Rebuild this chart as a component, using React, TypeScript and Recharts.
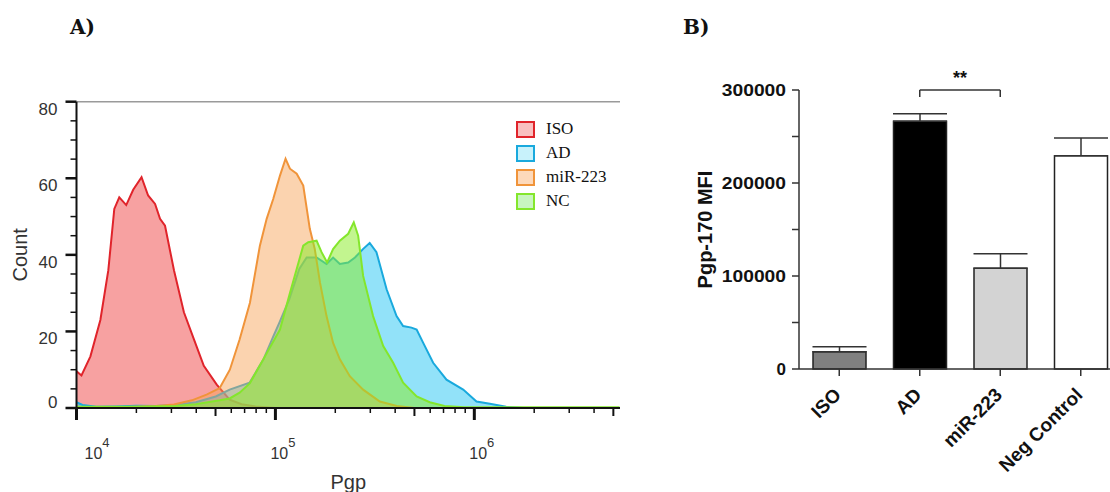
import {
  AreaChart,
  Area,
  BarChart,
  Bar,
  Cell,
  ErrorBar,
  XAxis,
  YAxis,
  ReferenceLine,
  Legend,
} from "recharts";

// Panel A: flow histogram, x given as log10(Pgp), y = count
const isoLog = [4.0, 4.025, 4.07, 4.12, 4.16, 4.19, 4.215, 4.25, 4.285, 4.327, 4.36, 4.395, 4.42, 4.445, 4.49, 4.54, 4.59, 4.64, 4.705, 4.77, 4.83, 4.9, 5.0, 6.73];
const isoCount = [9.6, 8.5, 13.5, 23, 36, 52, 55, 53, 57, 60.3, 55.5, 53.3, 49.4, 47.6, 36, 25, 18, 11, 6.1, 2.2, 1, 0.4, 0, 0];

const adLog = [4.0, 4.03, 4.1, 4.2, 4.3, 4.4, 4.5, 4.6, 4.7, 4.77, 4.87, 4.94, 4.99, 5.02, 5.07, 5.12, 5.157, 5.207, 5.257, 5.29, 5.324, 5.366, 5.4, 5.44, 5.474, 5.508, 5.559, 5.609, 5.642, 5.684, 5.71, 5.743, 5.793, 5.86, 5.944, 6.011, 6.078, 6.16, 6.25, 6.73];
const adCount = [1.5, 0.8, 0.3, 0.4, 0.6, 0.5, 0.8, 1.5, 3, 4.8, 6.6, 12.7, 18.8, 22.3, 28.4, 36.3, 39.3, 39.3, 37.6, 39.3, 37.6, 38, 39.3, 41.5, 43.1, 40.7, 31, 24, 21.4, 21, 20.5, 17, 11.8, 7.4, 4.8, 1.7, 1.1, 0.3, 0, 0];

const mirLog = [4.0, 4.2, 4.4, 4.49, 4.58, 4.654, 4.72, 4.771, 4.82, 4.872, 4.922, 4.956, 4.989, 5.023, 5.051, 5.073, 5.107, 5.14, 5.173, 5.198, 5.224, 5.257, 5.29, 5.324, 5.374, 5.441, 5.525, 5.61, 5.7, 6.73];
const mirCount = [0, 0.2, 0.5, 0.9, 2, 3.5, 5.2, 10, 17.9, 27.5, 42.4, 49.4, 54.6, 60.7, 65.1, 62.5, 61.2, 58.1, 46.8, 41.5, 32.8, 24, 17, 12.7, 8.3, 4.8, 1.7, 0.5, 0, 0];

const ncLog = [4.0, 4.3, 4.5, 4.6, 4.72, 4.77, 4.82, 4.872, 4.939, 5.023, 5.073, 5.107, 5.14, 5.165, 5.207, 5.232, 5.26, 5.29, 5.324, 5.366, 5.394, 5.416, 5.441, 5.491, 5.542, 5.592, 5.642, 5.71, 5.776, 5.85, 5.95, 6.73];
const ncCount = [0.3, 0.3, 0.5, 1, 2, 2.5, 4, 6.5, 12.7, 20.5, 30, 36.3, 42.4, 43.3, 43.7, 40.7, 38, 41.5, 43.7, 45.5, 48.5, 45, 34.5, 24, 16.2, 11.8, 6.6, 3, 1.5, 0.5, 0.2, 0.2];

const pgpTicks = [
  10000, 20000, 30000, 40000, 50000, 60000, 70000, 80000, 90000,
  100000, 200000, 300000, 400000, 500000, 600000, 700000, 800000, 900000,
  1000000, 2000000, 3000000, 4000000, 5000000,
];
const countTicks = [0, 5, 10, 15, 20, 25, 30, 35, 40, 45, 50, 55, 60, 65, 70, 75, 80];

// Panel B: bar chart
const groups = ["ISO", "AD", "miR-223", "Neg Control"];
const mfi = [18600, 266300, 108300, 229400];
const semUp = [5400, 8200, 15700, 19000];
const mfiTicks = [0, 50000, 100000, 150000, 200000, 250000, 300000];

const toSeries = (logs: number[], counts: number[]) =>
  logs.map((e, i) => ({ pgp: 10 ** e, count: counts[i] }));

const series = [
  { name: "ISO", data: toSeries(isoLog, isoCount), stroke: "#e0242b", fill: "#ef3b3b", op: 0.48, box: "#f9c0c0" },
  { name: "AD", data: toSeries(adLog, adCount), stroke: "#19a9dd", fill: "#1cc3f2", op: 0.48, box: "#c8f2fb" },
  { name: "miR-223", data: toSeries(mirLog, mirCount), stroke: "#f0943a", fill: "#f7a257", op: 0.48, box: "#fdd9bb" },
  { name: "NC", data: toSeries(ncLog, ncCount), stroke: "#84e62c", fill: "#8bec28", op: 0.52, box: "#c8f5c0" },
];

const barData = groups.map((g, i) => ({ group: g, mfi: mfi[i], err: [0, semUp[i]] }));
const barFills = ["#808080", "#000000", "#d3d3d3", "#ffffff"];

const SANS = "Arial, 'Liberation Sans', sans-serif";
const SERIF = "'Times New Roman', 'Liberation Serif', serif";

function PgpTick({ x, y, payload }: any) {
  const v = payload.value;
  const exp = Math.floor(Math.log10(v) + 1e-9);
  const mant = Math.round(v / 10 ** exp);
  const major = mant === 1;
  const mid = mant === 5;
  const len = major ? 12 : mid ? 8 : 5;
  return (
    <g>
      <line x1={x} x2={x} y1={y} y2={y + len} stroke="#111" strokeWidth={major ? 3 : mid ? 2 : 1.5} />
      {major && (
        <text x={x + (exp === 4 ? 8 : -5)} y={459} fontFamily={SANS} fontSize={16} fill="#333">
          10
          <tspan dy={-12} fontSize={13}>
            {exp}
          </tspan>
        </text>
      )}
    </g>
  );
}

function CountTick({ x, y, payload }: any) {
  const v = payload.value;
  const major = v % 20 === 0;
  return (
    <g>
      <line x1={x - (major ? 11 : 6)} x2={x} y1={y} y2={y} stroke="#111" strokeWidth={major ? 2.5 : 1.5} />
      {major && (
        <text x={x - 19} y={v === 0 ? y : y + 13} textAnchor="end" fontFamily={SANS} fontSize={17} fill="#333">
          {v}
        </text>
      )}
    </g>
  );
}

function MfiTick({ x, y, payload }: any) {
  const v = payload.value;
  if (v % 100000 !== 0) return null;
  const s = String(v);
  return (
    <text
      x={x}
      y={y + 6}
      textAnchor="end"
      fontFamily={SANS}
      fontWeight="bold"
      fontSize={17}
      fill="#111"
      textLength={s.length > 1 ? s.length * 10.7 : undefined}
      lengthAdjust="spacingAndGlyphs"
    >
      {s}
    </text>
  );
}

function GroupTick({ x, y, payload }: any) {
  const tx = x + 3;
  const ty = y + 20;
  return (
    <text
      x={tx}
      y={ty}
      textAnchor="end"
      transform={`rotate(-45, ${tx}, ${ty})`}
      fontFamily={SANS}
      fontWeight="bold"
      fontSize={19}
      fill="#111"
    >
      {payload.value}
    </text>
  );
}

function HistLegend() {
  return (
    <div style={{ fontFamily: SERIF, fontSize: 17, color: "#111" }}>
      {series.map((s) => (
        <div key={s.name} style={{ display: "flex", alignItems: "center", height: 24 }}>
          <span
            style={{
              display: "inline-block",
              width: 15,
              height: 13,
              background: s.box,
              border: `2px solid ${s.stroke}`,
              marginRight: 11,
            }}
          />
          {s.name}
        </div>
      ))}
    </div>
  );
}

export default function App() {
  return (
    <div
      style={{
        position: "absolute",
        left: 0,
        top: 0,
        width: 1110,
        height: 492,
        overflow: "hidden",
        background: "#fff",
      }}
    >
      <div style={{ position: "absolute", left: -40, top: 0 }}>
        <AreaChart width={680} height={492} margin={{ top: 101.7, right: 20, bottom: 0, left: 3.5 }}>
          <XAxis
            dataKey="pgp"
            type="number"
            scale="log"
            domain={[10000, 5400000]}
            allowDataOverflow
            ticks={pgpTicks}
            interval={0}
            height={84}
            tickSize={0}
            tickMargin={0}
            tick={<PgpTick />}
            axisLine={{ stroke: "#111", strokeWidth: 2 }}
            label={{ value: "Pgp", position: "insideBottom", offset: 3, fontFamily: SANS, fontSize: 20, fill: "#333" }}
          />
          <YAxis
            type="number"
            domain={[0, 80]}
            ticks={countTicks}
            interval={0}
            width={113}
            tickSize={0}
            tickMargin={0}
            tick={<CountTick />}
            axisLine={{ stroke: "#111", strokeWidth: 2 }}
            label={{ value: "Count", angle: -90, position: "center", fontFamily: SANS, fontSize: 20, fill: "#333" }}
          />
          <ReferenceLine y={80} stroke="#9a9a9a" strokeWidth={1.5} />
          {series.map((s) => (
            <Area
              key={s.name}
              data={s.data}
              dataKey="count"
              name={s.name}
              type="linear"
              stroke={s.stroke}
              strokeWidth={2}
              fill={s.fill}
              fillOpacity={s.op}
              dot={false}
              activeDot={false}
              isAnimationActive={false}
            />
          ))}
          <Legend
            layout="horizontal"
            verticalAlign="middle"
            align="center"
            wrapperStyle={{ left: 556, top: 117, width: "auto" }}
            content={() => <HistLegend />}
          />
        </AreaChart>
      </div>

      <div style={{ position: "absolute", left: 600, top: 0 }}>
        <BarChart width={521} height={492} data={barData} margin={{ top: 90, right: 0, bottom: 0, left: 11 }}>
          <XAxis
            dataKey="group"
            height={123}
            interval={0}
            tickSize={7}
            tickMargin={0}
            tickLine={{ stroke: "#333", strokeWidth: 1.5 }}
            axisLine={{ stroke: "#333", strokeWidth: 1.5 }}
            tick={<GroupTick />}
          />
          <YAxis
            type="number"
            domain={[0, 300000]}
            ticks={mfiTicks}
            interval={0}
            width={188}
            tickSize={7}
            tickMargin={6}
            tickLine={{ stroke: "#333", strokeWidth: 1.5 }}
            axisLine={{ stroke: "#333", strokeWidth: 1.5 }}
            tick={<MfiTick />}
            label={{
              value: "Pgp-170 MFI",
              angle: -90,
              position: "center",
              fontFamily: SANS,
              fontWeight: "bold",
              fontSize: 20,
              fill: "#111",
            }}
          />
          <Bar dataKey="mfi" barSize={53} stroke="#222" strokeWidth={1.5} isAnimationActive={false}>
            {barData.map((d, i) => (
              <Cell key={d.group} fill={barFills[i]} />
            ))}
            <ErrorBar dataKey="err" width={27} stroke="#333" strokeWidth={1.5} isAnimationActive={false} />
          </Bar>
          <ReferenceLine
            segment={[
              { x: "AD", y: 300000 },
              { x: "miR-223", y: 300000 },
            ]}
            stroke="#333"
            strokeWidth={1.5}
            label={{ value: "**", position: "top", offset: 6, fontFamily: SANS, fontWeight: "bold", fontSize: 18, fill: "#111" }}
          />
          <ReferenceLine
            segment={[
              { x: "AD", y: 300000 },
              { x: "AD", y: 292500 },
            ]}
            stroke="#333"
            strokeWidth={1.5}
          />
          <ReferenceLine
            segment={[
              { x: "miR-223", y: 300000 },
              { x: "miR-223", y: 292500 },
            ]}
            stroke="#333"
            strokeWidth={1.5}
          />
        </BarChart>
      </div>

      <svg width={1110} height={492} style={{ position: "absolute", left: 0, top: 0, pointerEvents: "none" }}>
        <text x={70} y={34} fontFamily="'DejaVu Serif', serif" fontWeight="bold" fontSize={20} fill="#111">
          A)
        </text>
        <text x={683} y={34} fontFamily="'DejaVu Serif', serif" fontWeight="bold" fontSize={20} fill="#111">
          B)
        </text>
      </svg>
    </div>
  );
}
